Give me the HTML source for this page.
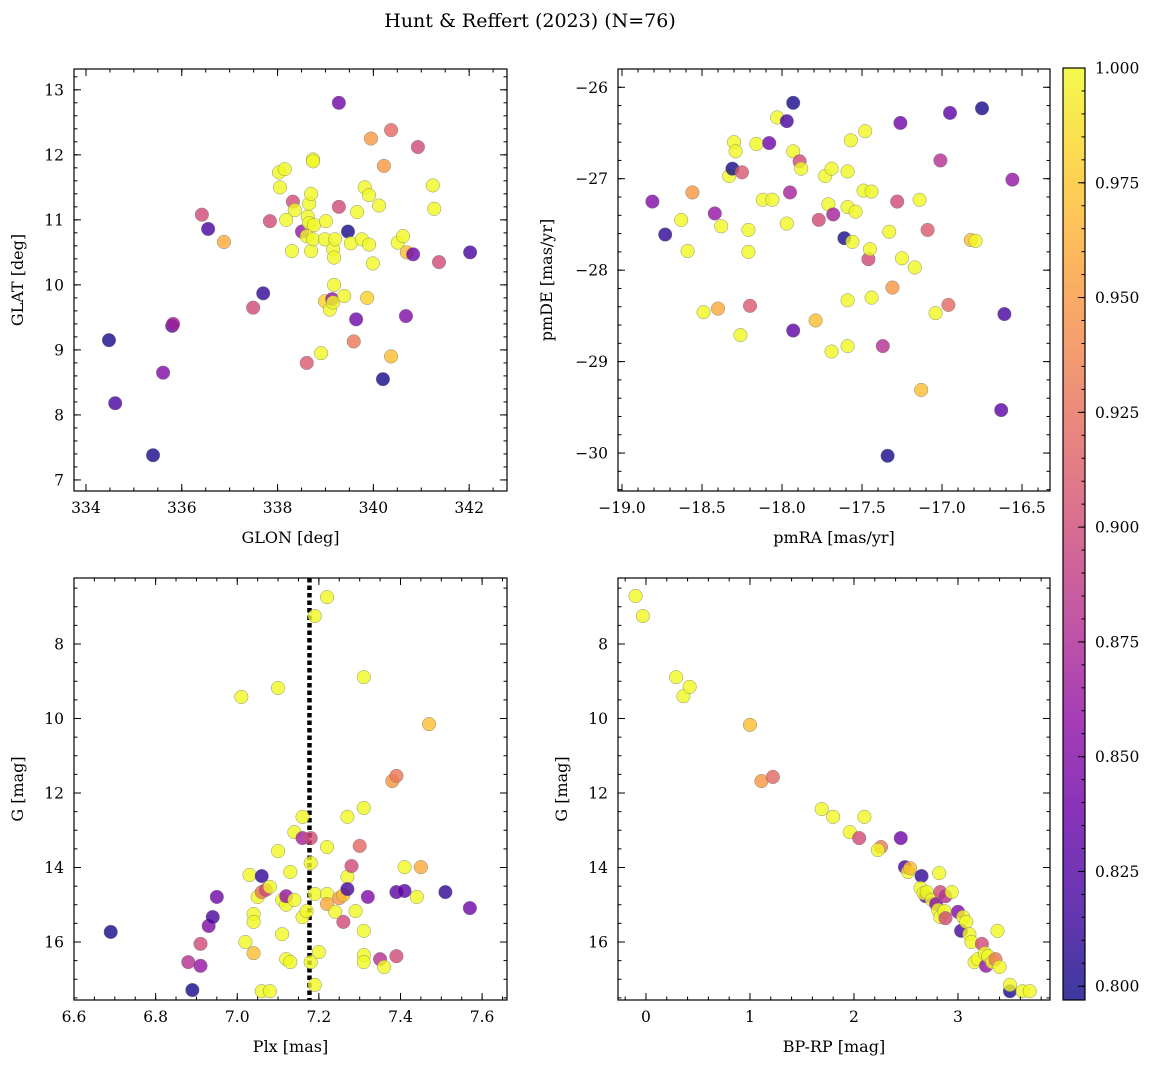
<!DOCTYPE html>
<html><head><meta charset="utf-8">
<style>
html,body{margin:0;padding:0;background:#fff;}
svg{display:block;font-family:"DejaVu Serif","Liberation Serif",serif;}
</style></head>
<body>
<svg id="fig" width="1160" height="1068" viewBox="0 0 1160 1068" xmlns="http://www.w3.org/2000/svg">
<text x="530" y="27" text-anchor="middle" font-size="19">Hunt &amp; Reffert (2023) (N=76)</text>
</svg>
<script>
// Panel 1: GLON vs GLAT
const glonValues=[334.48,334.61,335.4,335.61,335.8,335.82,336.42,336.55,336.88,337.49,337.7,337.84,338.03,338.05,338.15,338.18,338.3,338.32,338.36,338.51,338.61,338.63,338.66,338.66,338.61,338.74,338.74,338.7,338.7,338.74,338.76,338.91,339.01,338.99,338.99,339.09,339.14,339.16,339.16,339.18,339.2,339.18,339.28,339.28,339.39,339.47,339.53,339.59,339.64,339.66,339.76,339.82,339.87,339.91,339.91,339.95,339.99,340.12,340.22,340.2,340.37,340.37,340.51,340.62,340.68,340.7,340.83,340.93,341.24,341.27,341.37,342.02];
const glatValues=[9.15,8.18,7.38,8.65,9.37,9.4,11.08,10.86,10.66,9.65,9.87,10.98,11.73,11.5,11.78,11.0,10.52,11.28,11.15,10.82,10.75,11.05,10.95,11.25,8.8,11.93,11.9,11.4,10.52,10.7,10.92,8.95,10.98,10.7,9.75,9.62,9.78,9.73,10.55,10.42,10.7,10.0,11.2,12.8,9.83,10.82,10.64,9.13,9.47,11.12,10.7,11.5,9.8,10.62,11.38,12.25,10.33,11.22,11.83,8.55,12.38,8.9,10.65,10.75,9.52,10.5,10.47,12.12,11.53,11.17,10.35,10.5];
const probPanel1=[0.80,0.82,0.80,0.85,0.82,0.87,0.90,0.82,0.96,0.90,0.81,0.90,1,1,1,1,1,0.90,1,0.86,1,1,1,1,0.91,1,1,1,1,1,1,1,1,1,0.98,1,0.86,1,1,1,1,1,0.90,0.84,1,0.80,1,0.93,0.84,1,1,1,0.98,1,1,0.95,1,1,0.95,0.80,0.92,0.97,1,1,0.85,0.97,0.84,0.90,1,1,0.90,0.82];
// Panel 2: pmRA vs pmDE
const pmraValues=[-18.81,-18.63,-18.59,-18.56,-18.73,-18.49,-18.40,-18.42,-18.38,-18.33,-18.31,-18.30,-18.29,-18.26,-18.25,-18.20,-18.21,-18.21,-18.16,-18.12,-18.08,-18.06,-18.03,-17.97,-17.97,-17.95,-17.93,-17.93,-17.93,-17.89,-17.88,-17.79,-17.77,-17.73,-17.71,-17.69,-17.69,-17.68,-17.61,-17.59,-17.59,-17.59,-17.59,-17.57,-17.56,-17.54,-17.49,-17.48,-17.46,-17.45,-17.44,-17.44,-17.37,-17.34,-17.33,-17.31,-17.28,-17.26,-17.25,-17.17,-17.14,-17.13,-17.09,-17.04,-17.01,-16.96,-16.95,-16.82,-16.79,-16.75,-16.63,-16.61,-16.56];
const pmdeValues=[-27.25,-27.45,-27.79,-27.15,-27.61,-28.46,-28.42,-27.38,-27.52,-26.97,-26.89,-26.60,-26.70,-28.71,-26.93,-28.39,-27.56,-27.80,-26.62,-27.23,-26.61,-27.23,-26.33,-26.37,-27.49,-27.15,-26.70,-26.17,-28.66,-26.81,-26.89,-28.55,-27.45,-26.97,-27.28,-26.89,-28.89,-27.39,-27.65,-28.33,-28.83,-27.31,-26.92,-26.58,-27.69,-27.36,-27.13,-26.48,-27.88,-27.77,-27.14,-28.30,-28.83,-30.03,-27.58,-28.19,-27.25,-26.39,-27.87,-27.97,-27.23,-29.31,-27.56,-28.47,-26.80,-28.38,-26.28,-27.67,-27.68,-26.23,-29.53,-28.48,-27.01];
const probPanel2=[0.85,1,1,0.95,0.81,1,0.96,0.86,1,1,0.80,1,1,1,0.91,0.91,1,1,1,1,0.84,1,1,0.82,1,0.87,1,0.80,0.83,0.90,1,0.97,0.90,1,1,1,1,0.87,0.80,1,1,1,1,1,1,1,1,1,0.90,1,1,1,0.88,0.80,1,0.95,0.90,0.84,1,1,1,0.97,0.91,1,0.88,0.92,0.83,0.97,1,0.80,0.83,0.82,0.86];
// Panel 3: Plx vs G
const plxValues=[6.69,6.89,6.88,6.91,6.91,6.93,6.94,6.95,7.01,7.02,7.03,7.04,7.04,7.04,7.05,7.06,7.06,7.06,7.07,7.08,7.08,7.10,7.10,7.11,7.11,7.12,7.12,7.12,7.13,7.13,7.14,7.14,7.16,7.16,7.16,7.17,7.18,7.18,7.18,7.19,7.19,7.19,7.20,7.22,7.22,7.22,7.22,7.24,7.25,7.26,7.26,7.27,7.27,7.27,7.28,7.29,7.30,7.31,7.31,7.31,7.31,7.31,7.32,7.35,7.36,7.38,7.39,7.39,7.39,7.41,7.41,7.44,7.45,7.47,7.51,7.57];
const gPanel3=[15.73,17.29,16.54,16.05,16.64,15.57,15.33,14.79,9.42,16.0,14.2,15.25,16.3,15.46,14.79,14.66,17.32,14.23,14.6,17.32,14.52,13.56,9.18,14.87,15.79,15.0,16.46,14.77,14.12,16.54,14.87,13.05,12.64,15.33,13.21,15.17,13.88,13.21,16.54,7.25,14.71,17.15,16.27,6.74,14.71,13.45,14.98,15.19,14.82,15.46,14.74,14.25,14.58,12.64,13.96,15.17,13.42,8.89,15.7,16.35,16.54,12.4,14.79,16.46,16.67,11.68,14.66,16.38,11.54,13.99,14.63,14.79,13.99,10.15,14.66,15.09];
const probPanel3=[0.80,0.80,0.88,0.90,0.86,0.85,0.82,0.84,1,1,1,1,0.97,1,1,0.93,1,0.81,0.90,1,1,1,1,1,1,1,1,0.86,1,1,1,1,1,1,0.87,1,1,0.90,1,1,1,1,1,1,1,1,0.96,1,0.95,0.90,0.97,1,0.82,1,0.90,1,0.92,1,1,1,1,1,0.85,0.88,1,0.95,0.83,0.90,0.93,1,0.83,1,0.96,0.97,0.81,0.84];
const plxLine=7.177;
// Panel 4: BP-RP vs G
const bprpValues=[-0.10,-0.03,0.29,0.36,0.42,1.0,1.11,1.22,1.69,1.80,1.96,2.05,2.10,2.26,2.23,2.45,2.49,2.52,2.54,2.65,2.64,2.69,2.67,2.70,2.75,2.79,2.81,2.82,2.83,2.83,2.87,2.88,2.88,2.94,3.0,3.03,3.05,3.08,3.11,3.13,3.16,3.19,3.23,3.26,3.27,3.29,3.33,3.36,3.38,3.40,3.50,3.50,3.62,3.69];
const gPanel4=[6.71,7.25,8.89,9.40,9.15,10.17,11.68,11.57,12.43,12.64,13.05,13.21,12.64,13.45,13.53,13.21,13.99,14.12,14.02,14.23,14.55,14.77,14.69,14.66,14.87,14.98,15.14,14.15,15.33,14.66,15.17,14.77,15.36,14.66,15.19,15.7,15.33,15.46,15.79,16.0,16.54,16.46,16.05,16.3,16.64,16.38,16.54,16.46,15.7,16.67,17.32,17.15,17.32,17.32];
const probPanel4=[1,1,1,1,1,0.97,0.95,0.92,1,1,1,0.90,1,0.93,1,0.84,0.82,1,0.97,0.81,1,0.83,1,1,1,0.85,1,1,1,0.90,1,0.88,0.90,1,0.85,0.82,1,1,1,1,1,1,0.90,1,0.86,1,1,0.93,1,1,0.80,1,1,1];
// Colorbar
const cbTicks=[0.800,0.825,0.850,0.875,0.900,0.925,0.950,0.975,1.000];
const cbMin=0.797, cbMax=1.0;

const NS="http://www.w3.org/2000/svg";
const svg=document.getElementById('fig');
function mk(tag,attrs,parent){const e=document.createElementNS(NS,tag);for(const k in attrs)e.setAttribute(k,attrs[k]);(parent||svg).appendChild(e);return e;}
const stops=[[13,8,135],[65,4,157],[106,0,168],[143,13,164],[177,42,144],[204,71,120],[225,100,98],[242,132,75],[252,166,54],[252,206,37],[240,249,33]];
function plasma(v){let t=(v-cbMin)/(cbMax-cbMin);t=Math.max(0,Math.min(1,t))*10;const i=Math.min(9,Math.floor(t)),f=t-i;const a=stops[i],b=stops[i+1];return `rgb(${Math.round(a[0]+(b[0]-a[0])*f)},${Math.round(a[1]+(b[1]-a[1])*f)},${Math.round(a[2]+(b[2]-a[2])*f)})`;}
function fmt(v,d){const s=v.toFixed(d);return s.replace('-','\u2212');}

function panel(o){
  const g=mk('g',{});
  
  
  const {x0,y0,w,h,xmin,xmax,ymin,ymax,inv}=o;
  const sx=v=>x0+(v-xmin)/(xmax-xmin)*w;
  const sy=v=>inv? y0+(v-ymin)/(ymax-ymin)*h : y0+h-(v-ymin)/(ymax-ymin)*h;
  const clip=mk('clipPath',{id:'c'+o.name},g);mk('rect',{x:x0,y:y0,width:w,height:h},clip);
  const pg=mk('g',{'clip-path':'url(#c'+o.name+')'},g);
  if(o.vline!==undefined){
    const l=mk('line',{x1:sx(o.vline),x2:sx(o.vline),y1:y0,y2:y0+h,stroke:'#000','stroke-width':4.5,'stroke-dasharray':'4.5 3'},pg);
    
    
  }
  for(let i=0;i<o.xs.length;i++){
    const c=mk('circle',{cx:sx(o.xs[i]),cy:sy(o.ys[i]),r:6.8,fill:plasma(o.cs[i]),'fill-opacity':0.8,stroke:'#777','stroke-width':0.5,'stroke-opacity':0.8},pg);
    
    
  }
  mk('rect',{x:x0,y:y0,width:w,height:h,fill:'none',stroke:'#000','stroke-width':1.2},g);
  const eps=1e-9;
  function ticksX(step,len){for(let v=Math.ceil(xmin/step-eps)*step;v<=xmax+eps;v+=step){const x=sx(v);mk('line',{x1:x,x2:x,y1:y0+h,y2:y0+h-len,stroke:'#000','stroke-width':1},g);mk('line',{x1:x,x2:x,y1:y0,y2:y0+len,stroke:'#000','stroke-width':1},g);}}
  function ticksY(step,len){for(let v=Math.ceil(ymin/step-eps)*step;v<=ymax+eps;v+=step){const y=sy(v);mk('line',{x1:x0,x2:x0+len,y1:y,y2:y,stroke:'#000','stroke-width':1},g);mk('line',{x1:x0+w,x2:x0+w-len,y1:y,y2:y,stroke:'#000','stroke-width':1},g);}}
  ticksX(o.xminor,3.5);ticksX(o.xmajor,7);ticksY(o.yminor,3.5);ticksY(o.ymajor,7);
  for(let v=Math.ceil(xmin/o.xmajor-eps)*o.xmajor;v<=xmax+eps;v+=o.xmajor){
    const t=mk('text',{x:sx(v),y:y0+h+22,'text-anchor':'middle','font-size':15.5},g);t.textContent=fmt(v,o.xdec);
    }
  for(let v=Math.ceil(ymin/o.ymajor-eps)*o.ymajor;v<=ymax+eps;v+=o.ymajor){
    const t=mk('text',{x:x0-10,y:sy(v)+5.5,'text-anchor':'end','font-size':15.5},g);t.textContent=fmt(v,o.ydec);
    }
  const xl=mk('text',{x:x0+w/2,y:y0+h+52,'text-anchor':'middle','font-size':16},g);xl.textContent=o.xlabel;
  
  const yx=o.ylx, yy=y0+h/2;
  const yl=mk('text',{x:yx,y:yy,'text-anchor':'middle','font-size':16,transform:`rotate(-90 ${yx} ${yy})`},g);yl.textContent=o.ylabel;
  
}
panel({name:'glon-glat-panel',x0:74,y0:69,w:433,h:422,xmin:333.75,xmax:342.79,ymin:6.83,ymax:13.32,inv:false,xs:glonValues,ys:glatValues,cs:probPanel1,xmajor:2,xminor:0.5,ymajor:1,yminor:0.2,xdec:0,ydec:0,xlabel:'GLON [deg]',ylabel:'GLAT [deg]',ylx:23});
panel({name:'proper-motion-panel',x0:618,y0:69,w:432,h:422,xmin:-19.025,xmax:-16.325,ymin:-30.415,ymax:-25.80,inv:false,xs:pmraValues,ys:pmdeValues,cs:probPanel2,xmajor:0.5,xminor:0.1,ymajor:1,yminor:0.2,xdec:1,ydec:0,xlabel:'pmRA [mas/yr]',ylabel:'pmDE [mas/yr]',ylx:552});
panel({name:'parallax-magnitude-panel',x0:74,y0:578,w:433,h:422,xmin:6.6,xmax:7.661,ymin:6.228,ymax:17.557,inv:true,xs:plxValues,ys:gPanel3,cs:probPanel3,xmajor:0.2,xminor:0.05,ymajor:2,yminor:0.5,xdec:1,ydec:0,xlabel:'Plx [mas]',ylabel:'G [mag]',ylx:23,vline:plxLine});
panel({name:'color-magnitude-panel',x0:618,y0:578,w:432,h:422,xmin:-0.269,xmax:3.885,ymin:6.228,ymax:17.557,inv:true,xs:bprpValues,ys:gPanel4,cs:probPanel4,xmajor:1,xminor:0.2,ymajor:2,yminor:0.5,xdec:0,ydec:0,xlabel:'BP-RP [mag]',ylabel:'G [mag]',ylx:567});

// colorbar
const cb=mk('g',{});


const cbx=1063,cbw=22,cby0=68,cbh=932;
const defs=mk('defs',{},cb);
const lg=mk('linearGradient',{id:'cbgrad',x1:0,y1:1,x2:0,y2:0},defs);
for(let i=0;i<=20;i++){const v=cbMin+(cbMax-cbMin)*i/20;const c=plasma(v).match(/\d+/g).map(Number);const m=c.map(x=>Math.round(x*0.8+255*0.2));mk('stop',{offset:i/20,'stop-color':`rgb(${m[0]},${m[1]},${m[2]})`},lg);}
mk('rect',{x:cbx,y:cby0,width:cbw,height:cbh,fill:'url(#cbgrad)',stroke:'#000','stroke-width':1.2},cb);
const cy=v=>cby0+cbh-(v-cbMin)/(cbMax-cbMin)*cbh;
for(let v=0.8;v<=1.0001;v+=0.005){mk('line',{x1:cbx+cbw,x2:cbx+cbw-3.5,y1:cy(v),y2:cy(v),stroke:'#000','stroke-width':1},cb);}
for(const v of cbTicks){mk('line',{x1:cbx+cbw,x2:cbx+cbw-7,y1:cy(v),y2:cy(v),stroke:'#000','stroke-width':1},cb);
  const t=mk('text',{x:cbx+cbw+10,y:cy(v)+5.5,'font-size':15.5},cb);t.textContent=v.toFixed(3);
  }
</script>
</body></html>
